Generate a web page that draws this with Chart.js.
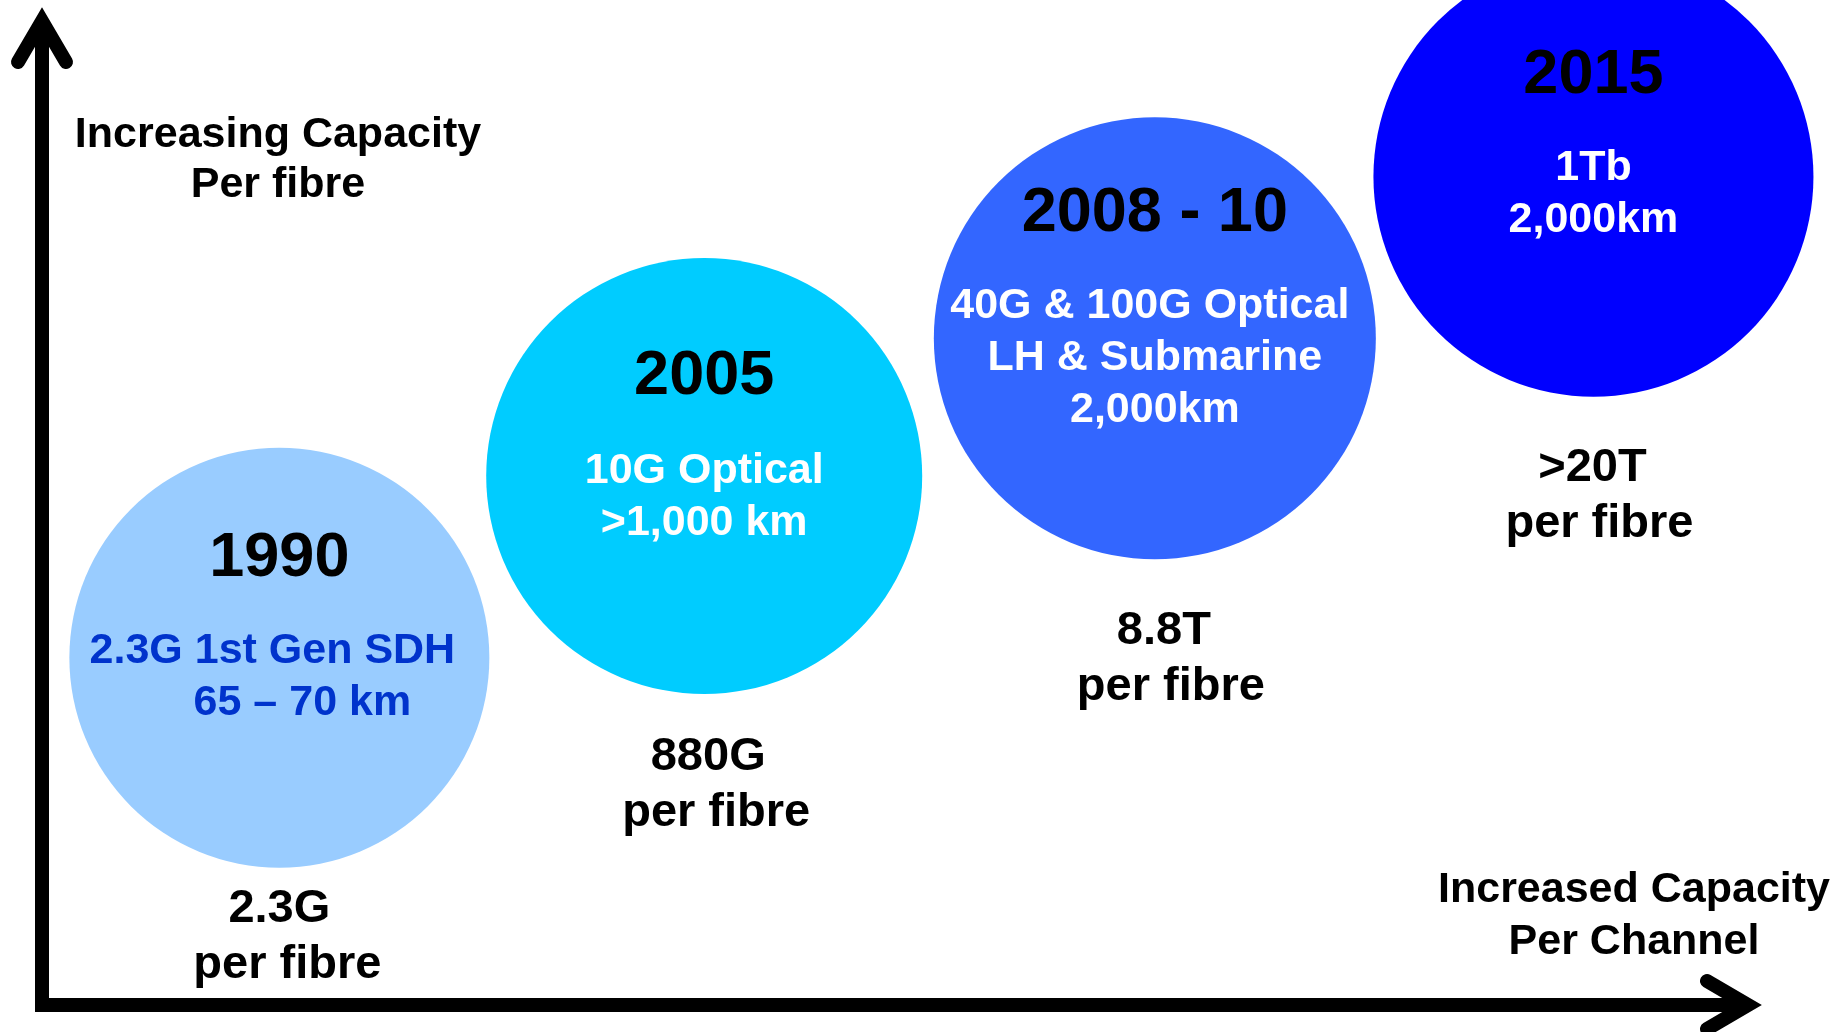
<!DOCTYPE html>
<html>
<head>
<meta charset="utf-8">
<title>Capacity per fibre</title>
<script src="https://cdn.jsdelivr.net/npm/chart.js@4.4.1/dist/chart.umd.min.js"></script>
<style>
    html, body { margin: 0; padding: 0; background: #fff; }
    #wrap { width: 1842px; height: 1032px; position: relative; }
</style>
</head>
<body>
<div id="wrap"><canvas id="capacityChart"></canvas></div>
<script>
// Data (positions are relative units on both axes, 0-100)
const years = ['1990', '2005', '2008 - 10', '2015'];
const channelCapacity = [13.8, 38.5, 64.7, 90.2];
const fibreCapacity = [34.8, 53.0, 66.8, 83.0];
const bubbleSize = [210, 218, 221, 220];
const techLines = [
    ['2.3G 1st Gen SDH', '65 \u2013 70 km'],
    ['10G Optical', '>1,000 km'],
    ['40G & 100G Optical', 'LH & Submarine', '2,000km'],
    ['1Tb', '2,000km']
];
const perFibre = ['2.3G', '880G', '8.8T', '>20T'];
const yAxisTitle = ['Increasing Capacity', 'Per fibre'];
const xAxisTitle = ['Increased Capacity', 'Per Channel'];

const bubbleColors = ['#99CCFF', '#00CCFF', '#3366FF', '#0000FF'];
const techColors = ['#0033CC', '#FFFFFF', '#FFFFFF', '#FFFFFF'];
const FONT = "'Liberation Sans', Arial, Helvetica, sans-serif";

// Axis arrows + axis titles
const axisArrows = {
    id: 'axisArrows',
    beforeDatasetsDraw(chart) {
        const { ctx, chartArea: a } = chart;
        ctx.save();
        ctx.strokeStyle = '#000';
        ctx.lineWidth = 14;
        ctx.lineCap = 'butt';

        ctx.beginPath();
        ctx.moveTo(a.left, a.bottom + 6);
        ctx.lineTo(a.left, a.top + 16);
        ctx.stroke();

        ctx.beginPath();
        ctx.moveTo(a.left - 7, a.bottom);
        ctx.lineTo(a.right - 16, a.bottom);
        ctx.stroke();

        ctx.lineCap = 'round';
        ctx.lineJoin = 'miter';
        ctx.beginPath();
        ctx.moveTo(a.left - 24, a.top + 55);
        ctx.lineTo(a.left, a.top + 14);
        ctx.lineTo(a.left + 24, a.top + 55);
        ctx.stroke();

        ctx.beginPath();
        ctx.moveTo(a.right - 55, a.bottom - 24);
        ctx.lineTo(a.right - 14, a.bottom);
        ctx.lineTo(a.right - 55, a.bottom + 24);
        ctx.stroke();

        ctx.fillStyle = '#000';
        ctx.textAlign = 'center';
        ctx.textBaseline = 'alphabetic';
        ctx.font = 'bold 43px ' + FONT;
        yAxisTitle.forEach((t, i) => ctx.fillText(t, 278, 147 + i * 50));
        xAxisTitle.forEach((t, i) => ctx.fillText(t, 1634, 902 + i * 52));
        ctx.restore();
    }
};

// Text inside and under each bubble
const bubbleText = {
    id: 'bubbleText',
    afterDatasetsDraw(chart) {
        const { ctx } = chart;
        const pts = chart.getDatasetMeta(0).data;
        const yearDy = [-82, -82, -107, -84];
        const techDy = [5, 7, -20, 3];
        const techDx = [[-7, 23], [0, 0], [-5, 0, 0], [0, 0]];
        const capDy = [264, 294, 306, 304];
        const capDx = [[0, 8], [4, 12], [9, 16], [-1, 6]];

        ctx.save();
        ctx.textAlign = 'center';
        ctx.textBaseline = 'alphabetic';
        pts.forEach((p, i) => {
            ctx.fillStyle = '#000';
            ctx.font = 'bold 63px ' + FONT;
            ctx.fillText(years[i], p.x, p.y + yearDy[i]);

            ctx.fillStyle = techColors[i];
            ctx.font = 'bold 43px ' + FONT;
            techLines[i].forEach((t, j) => {
                ctx.fillText(t, p.x + techDx[i][j], p.y + techDy[i] + j * 52);
            });

            ctx.fillStyle = '#000';
            ctx.font = 'bold 47px ' + FONT;
            ctx.fillText(perFibre[i], p.x + capDx[i][0], p.y + capDy[i]);
            ctx.fillText('per fibre', p.x + capDx[i][1], p.y + capDy[i] + 56);
        });
        ctx.restore();
    }
};

const ctx = document.getElementById('capacityChart').getContext('2d');

new Chart(ctx, {
    type: 'bubble',
    data: {
        labels: years,
        datasets: [{
            label: 'Capacity',
            data: years.map((y, i) => ({ x: channelCapacity[i], y: fibreCapacity[i], r: bubbleSize[i] })),
            backgroundColor: bubbleColors,
            borderWidth: 0,
            hoverRadius: 0,
            clip: false
        }]
    },
    options: {
        responsive: true,
        maintainAspectRatio: false,
        animation: false,
        events: [],
        layout: {
            autoPadding: false,
            padding: { left: 42, right: 80, top: 7, bottom: 27 }
        },
        scales: {
            x: { type: 'linear', min: 0, max: 100, display: false },
            y: { type: 'linear', min: 0, max: 100, display: false }
        },
        plugins: {
            legend: { display: false },
            tooltip: { enabled: false }
        }
    },
    plugins: [axisArrows, bubbleText]
});
</script>
</body>
</html>
